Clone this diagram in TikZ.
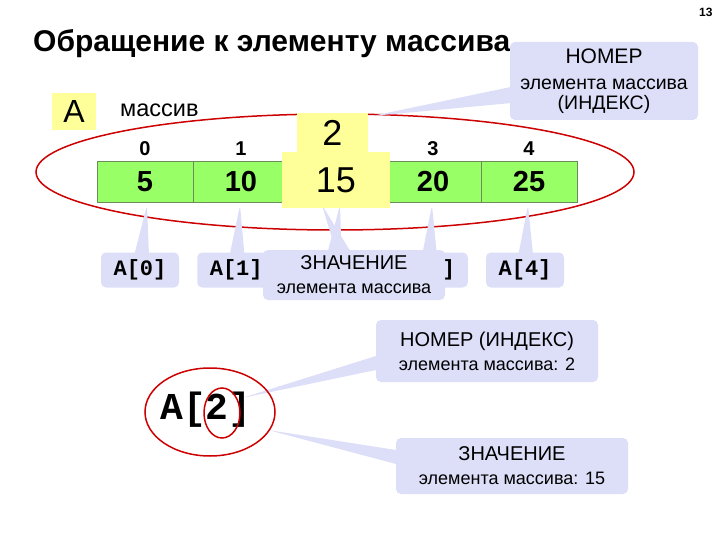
\documentclass[tikz,border=0pt]{standalone}
\usepackage{fontspec}
\setmainfont{Liberation Sans}
\setmonofont{Liberation Mono}
\usetikzlibrary{shapes.callouts}
\definecolor{cellgreen}{RGB}{153,255,102}
\definecolor{celledge}{RGB}{110,140,90}
\definecolor{markyellow}{RGB}{255,255,153}
\definecolor{calllilac}{RGB}{221,222,248}
\definecolor{ringred}{RGB}{204,0,0}
\newcommand{\fsz}[2]{\fontsize{#1}{#2}\selectfont}

\begin{document}
\begin{tikzpicture}[x=1pt,y=-1pt,
  cellbox/.style={draw=celledge,fill=cellgreen,minimum width=96pt,minimum height=41pt,inner sep=0pt,font=\fsz{29}{29}\bfseries},
  yellowbox/.style={fill=markyellow,inner sep=0pt},
  callbox/.style={rectangle callout,fill=calllilac,rounded corners=5pt,inner sep=0pt,callout pointer width=14pt,align=center,font=\fsz{18}{24}},
  namebox/.style={callbox,minimum width=78pt,minimum height=35pt,font=\fsz{22}{22}\ttfamily\bfseries},
  ring/.style={draw=ringred,line width=1.5pt}]
\useasboundingbox (0,0) rectangle (720,540);
\node[anchor=east,font=\fsz{12}{12}\bfseries] (page) at (716,12) {13};
\node[anchor=west,inner sep=0pt,font=\fsz{30}{30}\bfseries] (title) at (33,44) {Обращение к элементу массива};
\node[yellowbox,minimum width=44pt,minimum height=37pt,font=\fsz{32}{32}] (name) at (74,111.5) {A};
\node[anchor=west,inner sep=0pt,font=\fsz{23.5}{23.5}] (kind) at (120,110) {массив};
\draw[ring] (335,172) ellipse [x radius=299pt,y radius=58pt];
\foreach \i/\v in {0/5,1/10,3/20,4/25}{
  \node[cellbox] (cell\i) at (145+96*\i,182) {\v};
  \node[font=\fsz{20}{20}\bfseries] (num\i) at (145+96*\i,149) {\i};
}
\foreach \i/\tx in {0/147,1/240,2/340,3/432,4/528}{
  \coordinate (tip\i) at (\tx,205);
  \node[namebox,callout absolute pointer={(tip\i)}] (ref\i) at (140+96.25*\i,270) {A[\i]};
}
\coordinate (tipv) at (322,205);
\node[callbox,minimum width=182pt,minimum height=50pt,callout absolute pointer={(tipv)}] (valnote) at (354,275)
  {{\fsz{20}{24}ЗНАЧЕНИЕ}\\элемента массива};
\node[yellowbox,minimum width=71pt,minimum height=39pt,font=\fsz{36}{36}] (idx) at (332.5,132.5) {2};
\node[yellowbox,minimum width=108pt,minimum height=56pt,font=\fsz{36}{36}] (val) at (336,180) {15};
\coordinate (tipn) at (372,116);
\node[callbox,minimum width=188pt,minimum height=78pt,callout pointer width=16pt,font=\fsz{19.5}{20},callout absolute pointer={(tipn)}] (idxnote) at (604,81)
  {{\fsz{21}{20}НОМЕР}\\[6pt]элемента массива\\(ИНДЕКС)};
\coordinate (tipi) at (242,398);
\node[callbox,minimum width=222pt,minimum height=62pt,callout absolute pointer={(tipi)}] (idxcall) at (487,351)
  {{\fsz{20}{24}НОМЕР (ИНДЕКС)}\\элемента массива: 2};
\coordinate (tipw) at (268,430);
\node[callbox,minimum width=232pt,minimum height=56pt,callout absolute pointer={(tipw)}] (valcall) at (512,466)
  {{\fsz{20}{24}ЗНАЧЕНИЕ}\\элемента массива: 15};
\node[font=\fsz{38}{38}\ttfamily\bfseries] (acc) at (206,410) {A[2]};
\draw[ring] (210,412) ellipse [x radius=65pt,y radius=44pt];
\draw[ring] (222,413) ellipse [x radius=18pt,y radius=25pt];
\end{tikzpicture}
\end{document}
